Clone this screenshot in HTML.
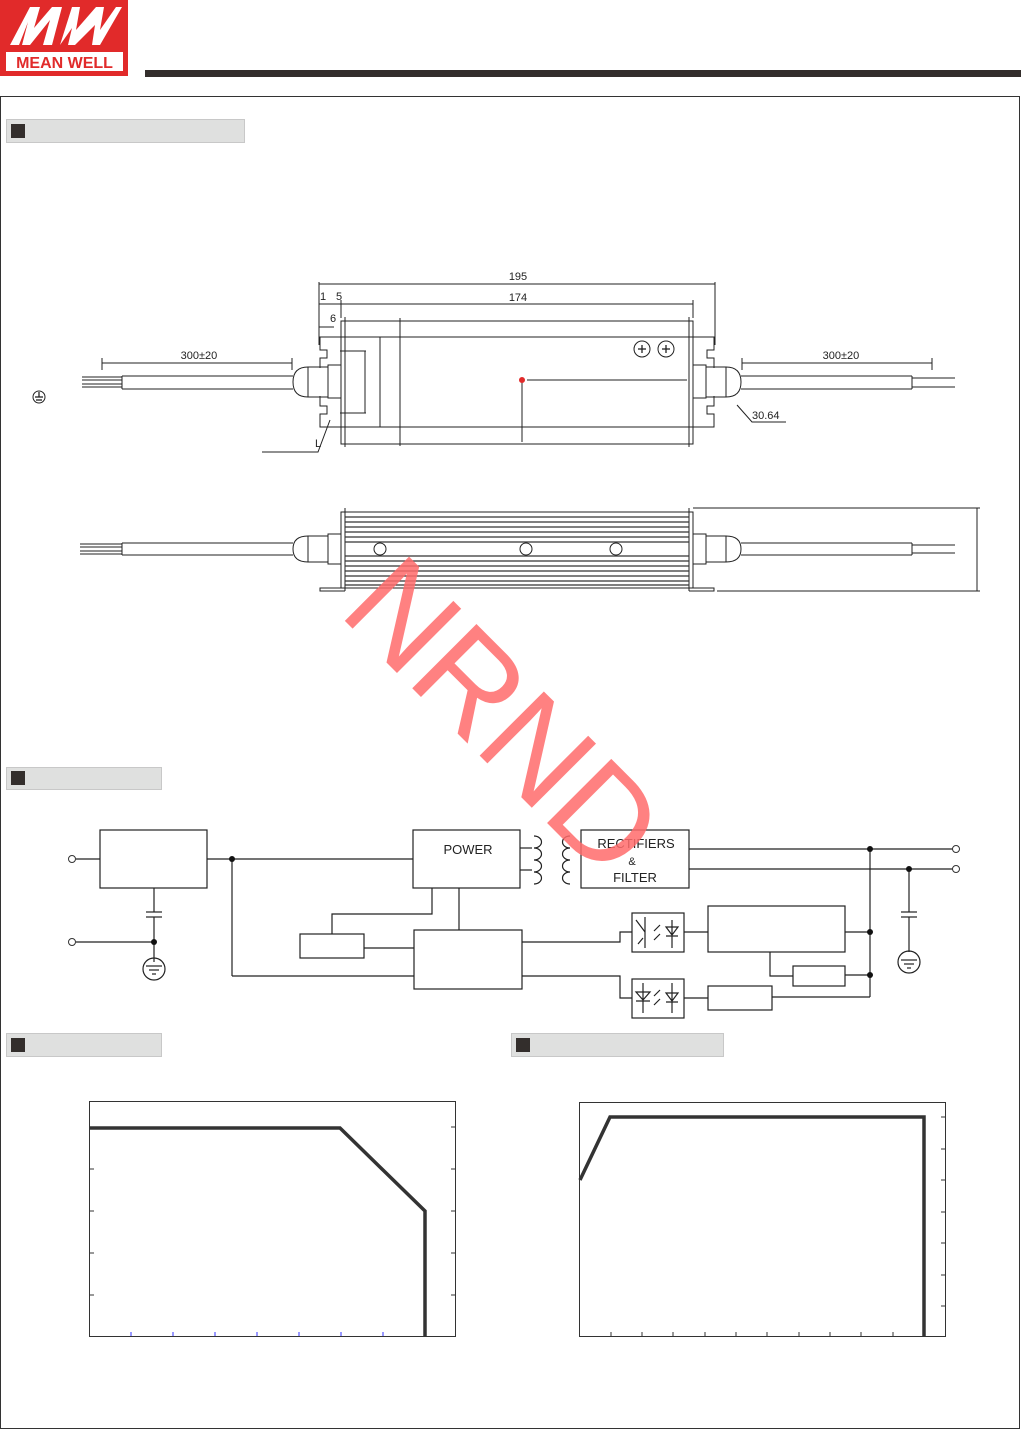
<!DOCTYPE html>
<html><head><meta charset="utf-8"><style>
html,body{margin:0;padding:0;background:#fff}
svg{display:block}
text{font-family:"Liberation Sans",sans-serif;fill:#222}
</style></head><body>
<svg width="1021" height="1430" viewBox="0 0 1021 1430" xmlns="http://www.w3.org/2000/svg">
<rect x="0" y="0" width="128" height="76" fill="#e12a2a"/>
<polygon points="10,45 30,7 40,7 34,28 52,7 62,7 52,45 43,45 50,20 30,45 22,45 28,22 19,45" fill="#fff"/>
<polygon points="60,45 72,7 80,7 76,30 96,7 104,7 100,30 116,7 122,7 100,45 92,45 95,25 75,45 68,45 72,28" fill="#fff"/>
<rect x="6" y="52" width="117" height="19" fill="#fff"/>
<text x="64.5" y="68" text-anchor="middle" font-size="16" font-weight="bold" style="fill:#e12a2a">MEAN WELL</text>
<rect x="145" y="70" width="876" height="7" fill="#332e2c"/>
<rect x="0.5" y="96.5" width="1019" height="1332" fill="none" stroke="#333" stroke-width="1"/>
<g fill="#dfe0df" stroke="#c8c8c8">
<rect x="6.5" y="119.5" width="238" height="23"/>
<rect x="6.5" y="767.5" width="155" height="22"/>
<rect x="6.5" y="1033.5" width="155" height="23"/>
<rect x="511.5" y="1033.5" width="212" height="23"/>
</g>
<g fill="#332e2c">
<rect x="11" y="124" width="14" height="14"/>
<rect x="11" y="771" width="14" height="14"/>
<rect x="11" y="1038" width="14" height="14"/>
<rect x="516" y="1038" width="14" height="14"/>
</g>
<g stroke="#222" stroke-width="1" fill="none">
<line x1="319" y1="282" x2="319" y2="345"/><line x1="715" y1="282" x2="715" y2="345"/>
<line x1="319" y1="284" x2="715" y2="284"/>
<line x1="341" y1="300" x2="341" y2="318"/><line x1="693" y1="300" x2="693" y2="318"/>
<line x1="319" y1="304" x2="693" y2="304"/>
<line x1="319" y1="327" x2="334" y2="327"/>
<rect x="341" y="321" width="352" height="123"/>
<line x1="341" y1="337" x2="693" y2="337"/>
<line x1="341" y1="427" x2="693" y2="427"/>
<line x1="345" y1="317" x2="345" y2="447"/><line x1="689" y1="317" x2="689" y2="447"/>
<line x1="400" y1="318" x2="400" y2="446"/>
<line x1="380" y1="337" x2="380" y2="427"/>
<line x1="365" y1="351" x2="365" y2="413"/>
<line x1="340" y1="351" x2="366" y2="351"/><line x1="340" y1="413" x2="366" y2="413"/>
<path d="M341,337 H320 V350 H327 V358 H320 V368 M341,427 H320 V414 H327 V406 H320 V396"/>
<path d="M693,337 H714 V350 H707 V358 H714 V368 M693,427 H714 V414 H707 V406 H714 V396"/>
<rect x="328" y="365" width="13" height="33"/><rect x="308" y="367" width="20" height="30"/>
<path d="M308,367 Q293,367 293,382 Q293,397 308,397"/>
<rect x="693" y="365" width="13" height="33"/><rect x="706" y="367" width="20" height="30"/>
<path d="M726,367 Q741,367 741,382 Q741,397 726,397"/>
<line x1="122" y1="376" x2="293" y2="376"/><line x1="122" y1="389" x2="293" y2="389"/>
<line x1="122" y1="376" x2="122" y2="389"/>
<line x1="741" y1="376" x2="912" y2="376"/><line x1="741" y1="389" x2="912" y2="389"/>
<line x1="912" y1="376" x2="912" y2="389"/>
<line x1="82" y1="377" x2="122" y2="377"/><line x1="82" y1="380" x2="122" y2="380"/><line x1="82" y1="384" x2="122" y2="384"/><line x1="82" y1="387" x2="122" y2="387"/>
<line x1="912" y1="378" x2="955" y2="378"/><line x1="912" y1="387" x2="955" y2="387"/>
<line x1="102" y1="358" x2="102" y2="370"/><line x1="292" y1="358" x2="292" y2="370"/><line x1="102" y1="363" x2="292" y2="363"/>
<line x1="742" y1="358" x2="742" y2="370"/><line x1="932" y1="358" x2="932" y2="370"/><line x1="742" y1="363" x2="932" y2="363"/>
<line x1="527" y1="380" x2="687" y2="380"/><line x1="522" y1="380" x2="522" y2="442"/>
<path d="M737,405 L752,422 H786"/>
<path d="M262,452 H318 L330,420"/>
<circle cx="642" cy="349" r="8"/><circle cx="666" cy="349" r="8"/>
<circle cx="39" cy="397" r="6"/>
</g>
<g stroke="#222" stroke-width="1.3"><line x1="638" y1="349" x2="646" y2="349"/><line x1="642" y1="345" x2="642" y2="353"/><line x1="662" y1="349" x2="670" y2="349"/><line x1="666" y1="345" x2="666" y2="353"/>
<line x1="35" y1="397" x2="43" y2="397"/><line x1="36" y1="400" x2="42" y2="400"/><line x1="39" y1="392" x2="39" y2="397"/></g>
<circle cx="522" cy="380" r="3" fill="#e12a2a"/>
<g font-size="11">
<text x="518" y="280" text-anchor="middle">195</text>
<text x="518" y="301" text-anchor="middle">174</text>
<text x="320" y="300">1</text><text x="336" y="300">5</text>
<text x="330" y="322">6</text>
<text x="199" y="359" text-anchor="middle">300±20</text>
<text x="841" y="359" text-anchor="middle">300±20</text>
<text x="752" y="419">30.64</text>
<text x="315" y="447">L</text>
</g>
<g stroke="#222" stroke-width="1" fill="none">
<rect x="341" y="512" width="352" height="76"/>
<line x1="345" y1="508" x2="345" y2="591"/><line x1="689" y1="508" x2="689" y2="591"/>
<path d="M341,588 H320 V591 H345 M693,588 H714 V591 H689"/>
<line x1="693" y1="508" x2="980" y2="508"/><line x1="717" y1="591" x2="980" y2="591"/>
<line x1="977" y1="508" x2="977" y2="591"/>
<rect x="328" y="534" width="13" height="30"/><rect x="308" y="536" width="20" height="26"/>
<path d="M308,536 Q293,536 293,549 Q293,562 308,562"/>
<rect x="693" y="534" width="13" height="30"/><rect x="706" y="536" width="20" height="26"/>
<path d="M726,536 Q741,536 741,549 Q741,562 726,562"/>
<line x1="122" y1="543" x2="293" y2="543"/><line x1="122" y1="555" x2="293" y2="555"/><line x1="122" y1="543" x2="122" y2="555"/>
<line x1="741" y1="543" x2="912" y2="543"/><line x1="741" y1="555" x2="912" y2="555"/><line x1="912" y1="543" x2="912" y2="555"/>
<line x1="80" y1="544" x2="122" y2="544"/><line x1="80" y1="547" x2="122" y2="547"/><line x1="80" y1="551" x2="122" y2="551"/><line x1="80" y1="554" x2="122" y2="554"/>
<line x1="912" y1="545" x2="955" y2="545"/><line x1="912" y1="553" x2="955" y2="553"/>
</g>
<g stroke="#333" stroke-width="1.2">
<line x1="345" y1="517" x2="689" y2="517"/><line x1="345" y1="522" x2="689" y2="522"/><line x1="345" y1="527" x2="689" y2="527"/><line x1="345" y1="532" x2="689" y2="532"/><line x1="345" y1="537" x2="689" y2="537"/><line x1="345" y1="542" x2="689" y2="542"/><line x1="345" y1="556" x2="689" y2="556"/><line x1="345" y1="561" x2="689" y2="561"/><line x1="345" y1="566" x2="689" y2="566"/><line x1="345" y1="571" x2="689" y2="571"/><line x1="345" y1="576" x2="689" y2="576"/><line x1="345" y1="581" x2="689" y2="581"/><line x1="345" y1="585" x2="689" y2="585"/>
</g>
<g fill="#fff" stroke="#222"><circle cx="380" cy="549" r="6"/><circle cx="526" cy="549" r="6"/><circle cx="616" cy="549" r="6"/></g>
<g stroke="#222" stroke-width="1.2" fill="none">
<rect x="100" y="830" width="107" height="58"/>
<rect x="413" y="830" width="107" height="58"/>
<rect x="581" y="830" width="108" height="58"/>
<rect x="300" y="934" width="64" height="24"/>
<rect x="414" y="930" width="108" height="59"/>
<rect x="632" y="913" width="52" height="39"/>
<rect x="632" y="979" width="52" height="39"/>
<rect x="708" y="906" width="137" height="46"/>
<rect x="793" y="966" width="52" height="20"/>
<rect x="708" y="986" width="64" height="24"/>
<line x1="76" y1="859" x2="100" y2="859"/>
<line x1="207" y1="859" x2="413" y2="859"/>
<line x1="232" y1="859" x2="232" y2="976"/><line x1="232" y1="976" x2="414" y2="976"/>
<line x1="76" y1="942" x2="154" y2="942"/>
<line x1="154" y1="888" x2="154" y2="912"/><line x1="146" y1="912" x2="162" y2="912"/><line x1="146" y1="917" x2="162" y2="917"/><line x1="154" y1="917" x2="154" y2="962"/>
<circle cx="154" cy="969" r="11"/><line x1="146" y1="966" x2="162" y2="966"/><line x1="149" y1="970" x2="159" y2="970"/><line x1="152" y1="974" x2="156" y2="974"/>
<line x1="364" y1="948" x2="414" y2="948"/>
<path d="M432,888 V914 H332 V934"/>
<line x1="459" y1="888" x2="459" y2="930"/>
<line x1="520" y1="848" x2="532" y2="848"/><line x1="520" y1="870" x2="532" y2="870"/>
<path d="M534,836 a5,4 0 0 1 0,12 a5,4 0 0 1 0,12 a5,4 0 0 1 0,12 a5,4 0 0 1 0,12"/>
<path d="M570,836 a5,4 0 0 0 0,12 a5,4 0 0 0 0,12 a5,4 0 0 0 0,12 a5,4 0 0 0 0,12"/>
<line x1="689" y1="849" x2="955" y2="849"/><line x1="689" y1="869" x2="955" y2="869"/>
<line x1="870" y1="849" x2="870" y2="997"/><line x1="845" y1="932" x2="870" y2="932"/><line x1="845" y1="975" x2="870" y2="975"/>
<path d="M870,997 H772"/>
<path d="M793,976 H770 V952"/>
<line x1="684" y1="932" x2="708" y2="932"/><line x1="684" y1="998" x2="708" y2="998"/>
<path d="M632,932 H620 V942 H522"/><path d="M632,998 H620 V976 H522"/>
<line x1="909" y1="869" x2="909" y2="912"/><line x1="901" y1="912" x2="917" y2="912"/><line x1="901" y1="917" x2="917" y2="917"/><line x1="909" y1="917" x2="909" y2="952"/>
<circle cx="909" cy="962" r="11"/><line x1="901" y1="960" x2="917" y2="960"/><line x1="904" y1="964" x2="914" y2="964"/><line x1="907" y1="968" x2="911" y2="968"/>
<line x1="645" y1="917" x2="645" y2="948"/><path d="M636,920 L645,932 M638,944 L643,938"/>
<path d="M666,927 h12 l-6,8 z M666,936 h12 M672,920 v28"/>
<path d="M660,925 l-6,6 M660,934 l-6,6"/>
<path d="M636,992 h14 l-7,8 z M643,983 v30 M636,1001 h14"/>
<path d="M666,993 h12 l-6,8 z M666,1002 h12 M672,983 v30"/>
<path d="M660,990 l-6,6 M660,999 l-6,6"/>
</g>
<g fill="#fff" stroke="#333"><circle cx="72" cy="859" r="3.5"/><circle cx="72" cy="942" r="3.5"/><circle cx="956" cy="849" r="3.5"/><circle cx="956" cy="869" r="3.5"/></g>
<g fill="#111"><circle cx="232" cy="859" r="3"/><circle cx="154" cy="942" r="3"/><circle cx="870" cy="849" r="3"/><circle cx="909" cy="869" r="3"/><circle cx="870" cy="932" r="3"/><circle cx="870" cy="975" r="3"/></g>
<g font-size="13" text-anchor="middle">
<text x="468" y="854">POWER</text>
<text x="636" y="848">RECTIFIERS</text>
<text x="632" y="865" font-size="11">&amp;</text>
<text x="635" y="882">FILTER</text>
</g>
<g fill="none" stroke="#333" stroke-width="1">
<rect x="89.5" y="1101.5" width="366" height="235"/>
<rect x="579.5" y="1102.5" width="366" height="234"/>
</g>
<g stroke="#333" stroke-width="1">
<line x1="451" y1="1127" x2="455" y2="1127"/><line x1="451" y1="1169" x2="455" y2="1169"/><line x1="451" y1="1211" x2="455" y2="1211"/><line x1="451" y1="1253" x2="455" y2="1253"/><line x1="451" y1="1295" x2="455" y2="1295"/>
<line x1="90" y1="1169" x2="94" y2="1169"/><line x1="90" y1="1211" x2="94" y2="1211"/><line x1="90" y1="1253" x2="94" y2="1253"/><line x1="90" y1="1295" x2="94" y2="1295"/>
<line x1="941" y1="1117" x2="945" y2="1117"/><line x1="941" y1="1149" x2="945" y2="1149"/><line x1="941" y1="1180" x2="945" y2="1180"/><line x1="941" y1="1212" x2="945" y2="1212"/><line x1="941" y1="1243" x2="945" y2="1243"/><line x1="941" y1="1275" x2="945" y2="1275"/><line x1="941" y1="1306" x2="945" y2="1306"/>
<line x1="611" y1="1332" x2="611" y2="1336"/><line x1="642" y1="1332" x2="642" y2="1336"/><line x1="673" y1="1332" x2="673" y2="1336"/><line x1="705" y1="1332" x2="705" y2="1336"/><line x1="736" y1="1332" x2="736" y2="1336"/><line x1="767" y1="1332" x2="767" y2="1336"/><line x1="799" y1="1332" x2="799" y2="1336"/><line x1="830" y1="1332" x2="830" y2="1336"/><line x1="861" y1="1332" x2="861" y2="1336"/><line x1="893" y1="1332" x2="893" y2="1336"/>
</g>
<g stroke="#33f" stroke-width="1"><line x1="131" y1="1332" x2="131" y2="1336"/><line x1="173" y1="1332" x2="173" y2="1336"/><line x1="215" y1="1332" x2="215" y2="1336"/><line x1="257" y1="1332" x2="257" y2="1336"/><line x1="299" y1="1332" x2="299" y2="1336"/><line x1="341" y1="1332" x2="341" y2="1336"/><line x1="383" y1="1332" x2="383" y2="1336"/></g>
<polyline points="90,1128 340,1128 425,1211 425,1336" fill="none" stroke="#333" stroke-width="3.5"/>
<polyline points="580,1180 610,1117 924,1117 924,1336" fill="none" stroke="#333" stroke-width="3.5"/>
<text x="0" y="0" font-size="132" text-anchor="middle" transform="translate(472,748) rotate(45)" style="fill:#ff6b6b;fill-opacity:0.85">NRND</text>
</svg>
</body></html>
